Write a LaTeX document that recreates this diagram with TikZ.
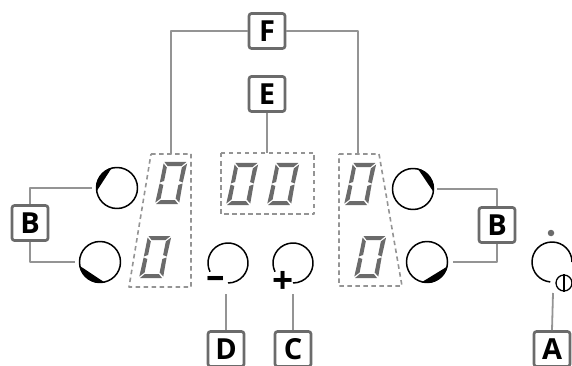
\documentclass[tikz,border=0pt]{standalone}
\usepackage{fontspec}
\setmainfont{Open Sans}

% one seven segment zero, (#1,#2) is its lower left corner
\newcommand{\segzero}[2]{
    \begin{scope}[shift={(#1,#2)}, xslant=0.2]
        \fill[segment] (1,-42) -- (23,-42) -- (19,-38) -- (5,-38) -- cycle;
        \fill[segment] (1,0) -- (23,0) -- (19,-4) -- (5,-4) -- cycle;
        \fill[segment] (0,-1.5) -- (4.5,-5.5) -- (4.5,-19) -- (0.5,-20.5) -- cycle;
        \fill[segment] (0.5,-40.5) -- (4.5,-36.5) -- (4.5,-23) -- (0.5,-21.5) -- cycle;
        \fill[segment] (24,-1.5) -- (19.5,-5.5) -- (19.5,-19) -- (23.5,-20.5) -- cycle;
        \fill[segment] (24,-40.5) -- (19.5,-36.5) -- (19.5,-23) -- (23.5,-21.5) -- cycle;
    \end{scope}
}

\begin{document}
\begin{tikzpicture}[x=1pt, y=-1pt, line cap=butt, line join=round,
        tag/.style={draw=black!58, line width=2.7pt, rounded corners=2.5pt, minimum width=36pt, minimum height=35pt, inner sep=0pt, fill=white, font=\fontsize{29}{29}\selectfont\bfseries},
        knob/.style={circle, draw=black, line width=1.5pt, minimum size=41pt, inner sep=0pt},
        conn/.style={draw=black!42, line width=1.8pt},
        frame/.style={draw=black!42, line width=1.6pt, dash pattern=on 4.5pt off 3.5pt},
        segment/.style={fill=black!58},
        arcline/.style={draw=black, line width=1.5pt},
        sign/.style={inner sep=0pt, font=\fontsize{37}{37}\selectfont\bfseries}]

    \useasboundingbox (0,0) rectangle (572,366);

    % dashed frames round the displays
    \draw[frame] (151,154) -- (191,154) -- (191,287) -- (129,287) -- cycle;
    \draw[frame] (221,153) rectangle (314,214);
    \draw[frame] (339,154) -- (379,154) -- (402,286) -- (339,286) -- cycle;

    \coordinate (frameL) at (171,154);
    \coordinate (frameM) at (267,153);
    \coordinate (frameR) at (358,154);

    \segzero{155}{204}
    \segzero{139}{278}
    \segzero{226}{205}
    \segzero{267}{205}
    \segzero{344}{205}
    \segzero{354}{278}

    % the four round keys
    \node[knob] (knobLT) at (117,188) {};
    \node[knob] (knobLB) at (100,262) {};
    \node[knob] (knobRT) at (413,189) {};
    \node[knob] (knobRB) at (427,262) {};

    \fill (knobLT) ++(104:21pt) arc[start angle=104, end angle=190, radius=21pt] -- cycle;
    \fill (knobLB) ++(190:21pt) arc[start angle=190, end angle=283, radius=21pt] -- cycle;
    \fill (knobRT) ++(77:21pt) arc[start angle=77, end angle=-9, radius=21pt] -- cycle;
    \fill (knobRB) ++(255:21pt) arc[start angle=255, end angle=348, radius=21pt] -- cycle;

    % minus, plus and power
    \draw[arcline] (228,263) ++(206:20pt) arc[start angle=206, end angle=-90, radius=20pt];
    \draw[arcline] (293,263) ++(206:20pt) arc[start angle=206, end angle=-90, radius=20pt];
    \draw[arcline] (552,262) ++(0:20pt) arc[start angle=0, end angle=265, radius=20pt];

    \node[sign] (minus) at (216,282) {--};
    \node[sign] (plus) at (283,282) {+};

    \node[circle, draw=black, line width=1.3pt, fill=white, minimum size=16pt, inner sep=0pt] (power) at (564,283) {};
    \draw[line width=2pt] (power.north) -- (power.south);
    \node[circle, fill=black!58, minimum size=6.5pt, inner sep=0pt] (dot) at (551,233) {};

    \coordinate (tipD) at (226,294);
    \coordinate (tipC) at (293,294);
    \coordinate (tipA) at (553,293);

    % letters
    \node[tag] (labF) at (267,31) {F};
    \node[tag] (labE) at (267,94) {E};
    \node[tag] (labBL) at (30,223) {B};
    \node[tag] (labBR) at (497,225) {B};
    \node[tag] (labD) at (226,349) {D};
    \node[tag] (labC) at (293,349) {C};
    \node[tag] (labA) at (552,349) {A};

    \draw[conn] (labF.west) -| (frameL);
    \draw[conn] (labF.east) -| (frameR);
    \draw[conn] (labE.south) -- (frameM);

    \draw[conn] (labBL.north) |- ([xshift=-4pt]knobLT.west);
    \draw[conn] (labBL.south) |- ([xshift=-4pt]knobLB.west);
    \draw[conn] (labBR.north) |- ([xshift=3pt]knobRT.east);
    \draw[conn] (labBR.south) |- ([xshift=5pt]knobRB.east);

    \draw[conn] (labD.north) -- (tipD);
    \draw[conn] (labC.north) -- (tipC);
    \draw[conn] (labA.north) -- (tipA);

\end{tikzpicture}
\end{document}
